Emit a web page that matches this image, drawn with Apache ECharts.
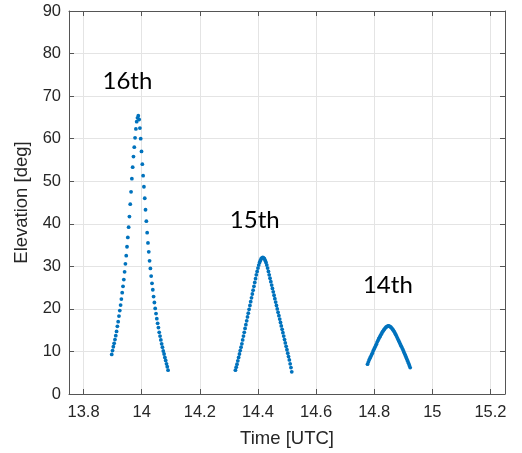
<!DOCTYPE html>
<html>
<head>
<meta charset="utf-8">
<script src="https://cdn.jsdelivr.net/npm/echarts@6/dist/echarts.min.js"></script>
<style>
  html, body { margin: 0; padding: 0; background: #fff; }
  #chart { width: 522px; height: 453px; }
</style>
</head>
<body>
<div id="chart"></div>
<script>
// Satellite pass elevations, sampled every ~10 s (time in UTC hours)
const timeTicks = [13.8, 14, 14.2, 14.4, 14.6, 14.8, 15, 15.2];

const time16 = [13.8970, 13.8998, 13.9025, 13.9053, 13.9081, 13.9109, 13.9136, 13.9164, 13.9192, 13.9219,
  13.9247, 13.9275, 13.9302, 13.9330, 13.9358, 13.9386, 13.9413, 13.9441, 13.9469, 13.9496,
  13.9524, 13.9552, 13.9579, 13.9607, 13.9635, 13.9663, 13.9690, 13.9718, 13.9746, 13.9773,
  13.9801, 13.9829, 13.9856, 13.9884, 13.9912, 13.9940, 13.9967, 13.9995, 14.0023, 14.0050,
  14.0078, 14.0106, 14.0133, 14.0161, 14.0189, 14.0217, 14.0244, 14.0272, 14.0300, 14.0327,
  14.0355, 14.0383, 14.0410, 14.0438, 14.0466, 14.0494, 14.0521, 14.0549, 14.0577, 14.0604,
  14.0632, 14.0660, 14.0687, 14.0715, 14.0743, 14.0771, 14.0798, 14.0826, 14.0854, 14.0881,
  14.0909];
const elev16 = [9.3, 10.2, 11.1, 11.9, 12.8, 13.7, 14.7, 15.9, 17.0, 18.3,
  19.6, 20.9, 22.3, 23.8, 25.3, 26.9, 28.7, 30.6, 32.5, 34.6,
  36.8, 39.2, 41.7, 44.6, 47.5, 50.6, 53.3, 55.8, 58.0, 60.2,
  62.3, 64.0, 64.9, 65.4, 64.5, 62.5, 60.0, 57.0, 54.0, 51.3,
  48.7, 46.0, 43.3, 40.6, 37.9, 35.5, 33.4, 31.3, 29.5, 27.7,
  26.0, 24.5, 22.9, 21.5, 20.1, 18.9, 17.7, 16.6, 15.6, 14.5,
  13.6, 12.7, 11.8, 11.0, 10.1, 9.4, 8.6, 7.9, 7.1, 6.4,
  5.6];

const time15 = [14.3225, 14.3253, 14.3280, 14.3308, 14.3336, 14.3364, 14.3391, 14.3419, 14.3447, 14.3474,
  14.3502, 14.3530, 14.3557, 14.3585, 14.3613, 14.3641, 14.3668, 14.3696, 14.3724, 14.3751,
  14.3779, 14.3807, 14.3834, 14.3862, 14.3890, 14.3918, 14.3945, 14.3973, 14.4001, 14.4028,
  14.4056, 14.4084, 14.4111, 14.4139, 14.4167, 14.4195, 14.4222, 14.4250, 14.4278, 14.4305,
  14.4333, 14.4361, 14.4388, 14.4416, 14.4444, 14.4472, 14.4499, 14.4527, 14.4555, 14.4582,
  14.4610, 14.4638, 14.4665, 14.4693, 14.4721, 14.4749, 14.4776, 14.4804, 14.4832, 14.4859,
  14.4887, 14.4915, 14.4942, 14.4970, 14.4998, 14.5026, 14.5053, 14.5081, 14.5109, 14.5136,
  14.5164];
const elev15 = [5.6, 6.3, 7.0, 7.8, 8.6, 9.4, 10.2, 11.0, 11.8, 12.7,
  13.6, 14.5, 15.4, 16.3, 17.2, 18.1, 19.0, 19.9, 20.8, 21.7,
  22.6, 23.5, 24.4, 25.3, 26.2, 27.1, 28.0, 28.8, 29.6, 30.3,
  30.9, 31.4, 31.8, 32.0, 32.1, 32.0, 31.8, 31.4, 30.9, 30.3,
  29.6, 28.8, 28.0, 27.2, 26.4, 25.6, 24.8, 24.0, 23.2, 22.4,
  21.6, 20.8, 20.0, 19.2, 18.4, 17.6, 16.8, 16.0, 15.2, 14.4,
  13.6, 12.8, 12.0, 11.2, 10.4, 9.6, 8.8, 8.0, 7.1, 6.2,
  5.2];

const time14 = [14.7770, 14.7798, 14.7825, 14.7853, 14.7881, 14.7909, 14.7936, 14.7964, 14.7992, 14.8019,
  14.8047, 14.8075, 14.8102, 14.8130, 14.8158, 14.8186, 14.8213, 14.8241, 14.8269, 14.8296,
  14.8324, 14.8352, 14.8379, 14.8407, 14.8435, 14.8463, 14.8490, 14.8518, 14.8546, 14.8573,
  14.8601, 14.8629, 14.8656, 14.8684, 14.8712, 14.8740, 14.8767, 14.8795, 14.8823, 14.8850,
  14.8878, 14.8906, 14.8933, 14.8961, 14.8989, 14.9017, 14.9044, 14.9072, 14.9100, 14.9127,
  14.9155, 14.9183, 14.9210, 14.9238];
const elev14 = [7.0, 7.5, 8.0, 8.4, 8.8, 9.2, 9.6, 10.1, 10.5, 10.9,
  11.3, 11.7, 12.2, 12.6, 13.0, 13.35, 13.7, 14.05, 14.4, 14.7,
  15.0, 15.25, 15.5, 15.7, 15.85, 15.95, 16.0, 15.95, 15.85, 15.7,
  15.5, 15.25, 15.0, 14.7, 14.35, 14.0, 13.6, 13.2, 12.8, 12.4,
  12.0, 11.6, 11.2, 10.8, 10.4, 9.95, 9.5, 9.05, 8.6, 8.15,
  7.7, 7.2, 6.7, 6.2];

// Pass annotations
const passNames = ['16th', '15th', '14th'];
const passLabelTime = [13.951, 14.389, 14.847];
const passLabelElev = [73.5, 40.9, 25.5];

const pairs = (xs, ys) => xs.map((x, i) => [x, ys[i]]);

const tickColor = '#262626';
const boxColor = '#555555';
const gridColor = '#e4e4e4';
const dotColor = '#0072BD';
const font = 'Liberation Sans, Arial, Helvetica, sans-serif';

const xRange = { min: 13.75, max: 15.25 };
const yRange = { min: 0, max: 90, interval: 10 };

const dotSeries = (data) => ({
  type: 'scatter',
  data: data,
  symbol: 'circle',
  symbolSize: 3.8,
  itemStyle: { color: dotColor, opacity: 1 },
  silent: true,
  z: 3
});

const chart = echarts.init(document.getElementById('chart'), null, { renderer: 'canvas' });
chart.setOption({
  animation: false,
  backgroundColor: '#ffffff',
  grid: { left: 69, right: 17, top: 11, bottom: 55, containLabel: false },
  xAxis: [
    {
      type: 'value', position: 'bottom', ...xRange,
      name: 'Time [UTC]', nameLocation: 'middle', nameGap: 35,
      nameTextStyle: { fontFamily: font, fontSize: 18.5, color: tickColor },
      axisLine: { show: true, lineStyle: { color: boxColor, width: 1 } },
      axisTick: { show: true, inside: true, length: 5, customValues: timeTicks, lineStyle: { color: boxColor } },
      axisLabel: { customValues: timeTicks, fontFamily: font, fontSize: 16.5, color: tickColor, margin: 10 },
      splitLine: { show: true, lineStyle: { color: gridColor, width: 1 } }
    },
    {
      type: 'value', position: 'top', ...xRange,
      axisLine: { show: true, onZero: false, lineStyle: { color: boxColor, width: 1 } },
      axisTick: { show: true, inside: true, length: 5, customValues: timeTicks, lineStyle: { color: boxColor } },
      axisLabel: { show: false },
      splitLine: { show: false }
    }
  ],
  yAxis: [
    {
      type: 'value', position: 'left', ...yRange,
      name: 'Elevation [deg]', nameLocation: 'middle', nameGap: 26,
      nameTextStyle: { fontFamily: font, fontSize: 18.5, color: tickColor },
      axisLine: { show: true, lineStyle: { color: boxColor, width: 1 } },
      axisTick: { show: true, inside: true, length: 5, lineStyle: { color: boxColor } },
      axisLabel: { fontFamily: font, fontSize: 16.5, color: tickColor, margin: 8 },
      splitLine: { show: true, lineStyle: { color: gridColor, width: 1 } }
    },
    {
      type: 'value', position: 'right', ...yRange,
      axisLine: { show: true, onZero: false, lineStyle: { color: boxColor, width: 1 } },
      axisTick: { show: true, inside: true, length: 5, lineStyle: { color: boxColor } },
      axisLabel: { show: false },
      splitLine: { show: false }
    }
  ],
  series: [
    dotSeries(pairs(time16, elev16)),
    dotSeries(pairs(time15, elev15)),
    dotSeries(pairs(time14, elev14)),
    {
      type: 'scatter',
      symbolSize: 0,
      silent: true,
      itemStyle: { opacity: 1 },
      data: passNames.map((n, i) => ({ name: n, value: [passLabelTime[i], passLabelElev[i]] })),
      label: {
        show: true,
        position: 'inside',
        formatter: '{b}',
        fontFamily: 'Lato, Open Sans, sans-serif',
        fontWeight: 'normal',
        fontSize: 24,
        color: '#000000',
        opacity: 1,
        textBorderWidth: 0
      },
      z: 4
    }
  ]
});
</script>
</body>
</html>
